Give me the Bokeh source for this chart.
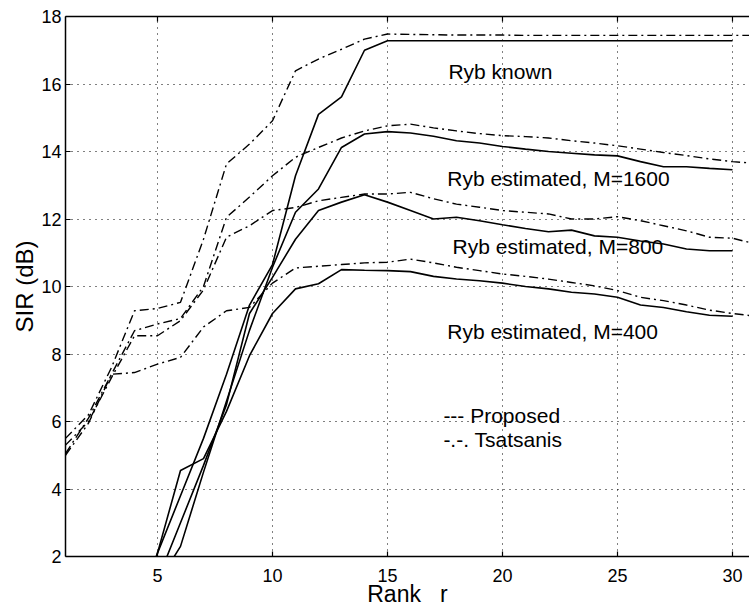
import math
from bokeh.plotting import figure
from bokeh.models import Range1d, LinearAxis, Label, FixedTicker
from bokeh.embed import file_html
from bokeh.resources import INLINE

# ---- data ----
rank_proposed = list(range(4, 31))
rank_tsatsanis = list(range(1, 32))

proposed_known = [0.3, 2.1, 3.8, 5.5, 7.4, 9.45, 10.65, 13.28, 15.1, 15.62, 17.0, 17.28,
                  17.28, 17.28, 17.28, 17.28, 17.28, 17.28, 17.28, 17.28, 17.28, 17.28,
                  17.28, 17.28, 17.28, 17.28, 17.28]
proposed_m1600 = [0.0, 1.2, 2.3, 4.5, 6.6, 8.7, 10.57, 12.2, 12.89, 14.12, 14.52, 14.59,
                  14.55, 14.45, 14.32, 14.25, 14.15, 14.07, 14.0, 13.95, 13.9, 13.87,
                  13.7, 13.55, 13.55, 13.5, 13.46]
proposed_m800 = [-0.4, 1.3, 3.0, 4.7, 6.5, 9.2, 10.27, 11.4, 12.25, 12.5, 12.72, 12.5,
                 12.25, 12.0, 12.05, 11.95, 11.83, 11.72, 11.62, 11.67, 11.5, 11.46,
                 11.35, 11.26, 11.11, 11.06, 11.06]
proposed_m400 = [-0.4, 2.1, 4.55, 4.9, 6.3, 7.95, 9.2, 9.93, 10.08, 10.5, 10.48, 10.47,
                 10.44, 10.3, 10.22, 10.17, 10.1, 10.0, 9.93, 9.83, 9.78, 9.68,
                 9.45, 9.38, 9.25, 9.15, 9.12]

tsat_known = [5.5, 6.2, 7.6, 9.28, 9.35, 9.53, 11.4, 13.63, 14.22, 14.91, 16.39, 16.74,
              17.03, 17.33, 17.48, 17.47, 17.46, 17.45, 17.45, 17.45, 17.44, 17.44,
              17.44, 17.44, 17.44, 17.44, 17.44, 17.44, 17.44, 17.44, 17.44]
tsat_m1600 = [5.05, 6.1, 7.4, 8.69, 8.89, 9.05, 10.0, 12.05, 12.65, 13.28, 13.83, 14.12,
              14.4, 14.61, 14.76, 14.81, 14.7, 14.61, 14.53, 14.47, 14.44, 14.4,
              14.32, 14.25, 14.17, 14.07, 13.97, 13.88, 13.78, 13.7, 13.65]
tsat_m800 = [5.3, 6.0, 7.3, 8.54, 8.54, 8.99, 9.9, 11.46, 11.8, 12.25, 12.34, 12.54,
             12.64, 12.74, 12.74, 12.79, 12.6, 12.44, 12.35, 12.25, 12.2, 12.15,
             12.0, 12.0, 12.07, 11.95, 11.8, 11.65, 11.46, 11.43, 11.26]
tsat_m400 = [5.0, 5.95, 7.4, 7.45, 7.7, 7.9, 8.8, 9.28, 9.38, 10.1, 10.55, 10.6,
             10.65, 10.7, 10.72, 10.81, 10.7, 10.57, 10.47, 10.37, 10.3, 10.22,
             10.12, 10.02, 9.88, 9.68, 9.58, 9.45, 9.3, 9.2, 9.12]

x_ticks = [5, 10, 15, 20, 25, 30]
y_ticks = [2, 4, 6, 8, 10, 12, 14, 16, 18]

annotations = [
    ("Ryb known", 17.65, 16.38),
    ("Ryb estimated, M=1600", 17.6, 13.19),
    ("Ryb estimated, M=800", 17.83, 11.2),
    ("Ryb estimated, M=400", 17.6, 8.66),
    ("--- Proposed", 17.43, 6.19),
    ("-.-. Tsatsanis", 17.43, 5.48),
]

FONT = "Liberation Sans"

p = figure(width=749, height=609, x_range=Range1d(1, 30.74), y_range=Range1d(2, 18),
           output_backend="svg", toolbar_location=None,
           min_border_left=65, min_border_right=0, min_border_top=16, min_border_bottom=53,
           x_axis_label="Rank\u00a0\u00a0\u00a0r", y_axis_label="SIR (dB)")
p.outline_line_color = None
p.background_fill_color = "white"

for ax in (p.xaxis[0], p.yaxis[0]):
    ax.major_tick_in = 5
    ax.major_tick_out = 0
    ax.minor_tick_in = 0
    ax.minor_tick_out = 0
    ax.axis_line_width = 1.5
    ax.axis_line_color = "black"
    ax.major_tick_line_color = "black"
    ax.major_tick_line_width = 1.2
    ax.major_label_text_font = FONT
    ax.major_label_text_font_size = "18px"
    ax.major_label_text_color = "black"
    ax.axis_label_text_font = FONT
    ax.axis_label_text_font_style = "normal"
    ax.axis_label_text_color = "black"

p.xaxis.ticker = x_ticks
p.yaxis.ticker = y_ticks
p.xaxis.major_label_standoff = 12
p.yaxis.major_label_standoff = 4
p.xaxis.axis_label_text_font_size = "23px"
p.yaxis.axis_label_text_font_size = "24px"
p.xaxis.axis_label_standoff = -4
p.yaxis.axis_label_standoff = 0

# top frame line (no labels) with inward ticks drawn as short rays
top = LinearAxis(ticker=FixedTicker(ticks=[]), axis_line_width=1.5, axis_line_color="black",
                 major_tick_in=0, major_tick_out=0, minor_tick_in=0, minor_tick_out=0)
p.add_layout(top, "above")
p.ray(x=x_ticks, y=[p.y_range.end] * len(x_ticks), length=5, length_units="screen",
      angle=-math.pi / 2, line_color="black", line_width=1.2)

p.grid.grid_line_color = "black"
p.grid.grid_line_width = 1
p.grid.grid_line_dash = "1 5"

for ys in (proposed_known, proposed_m1600, proposed_m800, proposed_m400):
    p.line(rank_proposed, ys, line_color="black", line_width=1.6)

for ys in (tsat_known, tsat_m1600, tsat_m800, tsat_m400):
    p.line(rank_tsatsanis, ys, line_color="black", line_width=1.4, line_dash="9 4 2 4")

for txt, lx, ly in annotations:
    p.add_layout(Label(x=lx, y=ly, text=txt, text_font=FONT, text_font_size="21px",
                       text_color="black", text_baseline="alphabetic", text_align="left"))

open("out.html", "w").write(file_html(p, INLINE))
